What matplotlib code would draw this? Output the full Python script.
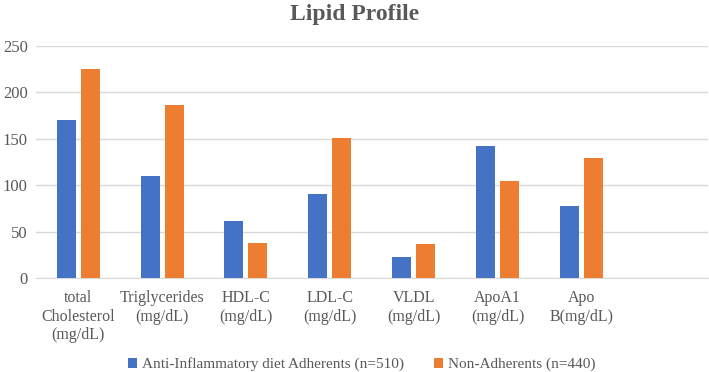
import numpy as np
import matplotlib
matplotlib.use("Agg")
import matplotlib.pyplot as plt

# data
categories = ["total\nCholesterol\n(mg/dL)", "Triglycerides\n(mg/dL)", "HDL-C\n(mg/dL)",
              "LDL-C\n(mg/dL)", "VLDL\n(mg/dL)", "ApoA1\n(mg/dL)", "Apo\nB(mg/dL)", ""]
adherents = [170, 110, 61, 90, 22, 142, 78, np.nan]
non_adherents = [225, 186, 38, 151, 37, 105, 129, np.nan]
series_names = ["Anti-Inflammatory diet Adherents (n=510)", "Non-Adherents (n=440)"]

plt.rcParams["font.family"] = ["Liberation Serif", "DejaVu Serif"]
text_color = "#595959"

fig = plt.figure(figsize=(7.09, 3.72), dpi=100)
ax = fig.add_axes([0.051, 0.253, 0.947, 0.623])

x = np.arange(len(categories))
w = 0.226
ax.bar(x - 0.143, adherents, w, color="#4472C4", label=series_names[0], zorder=3)
ax.bar(x + 0.143, non_adherents, w, color="#ED7D31", label=series_names[1], zorder=3)

ax.set_xlim(-0.5, len(categories) - 0.5)
ax.set_ylim(0, 250)
ax.set_yticks(range(0, 251, 50))
ax.set_xticks(x)
ax.set_xticklabels(categories, fontsize=11.5, color=text_color, linespacing=1.2)
ax.tick_params(axis="y", labelsize=12, colors=text_color, length=0, pad=6)
ax.tick_params(axis="x", length=0, pad=9)
ax.grid(axis="y", color="#D9D9D9", linewidth=1, zorder=0)
for s in ["top", "right", "left"]:
    ax.spines[s].set_visible(False)
ax.spines["bottom"].set_color("#D9D9D9")

fig.suptitle("Lipid Profile", y=0.99, fontsize=17, fontweight="bold", color=text_color)

fig.legend(loc="lower center", bbox_to_anchor=(0.51, -0.035), ncol=2, frameon=False,
           fontsize=11, handlelength=0.6, handleheight=0.6, handletextpad=0.3,
           columnspacing=2.0, labelcolor=text_color)

fig.savefig("out.png", dpi=100)
